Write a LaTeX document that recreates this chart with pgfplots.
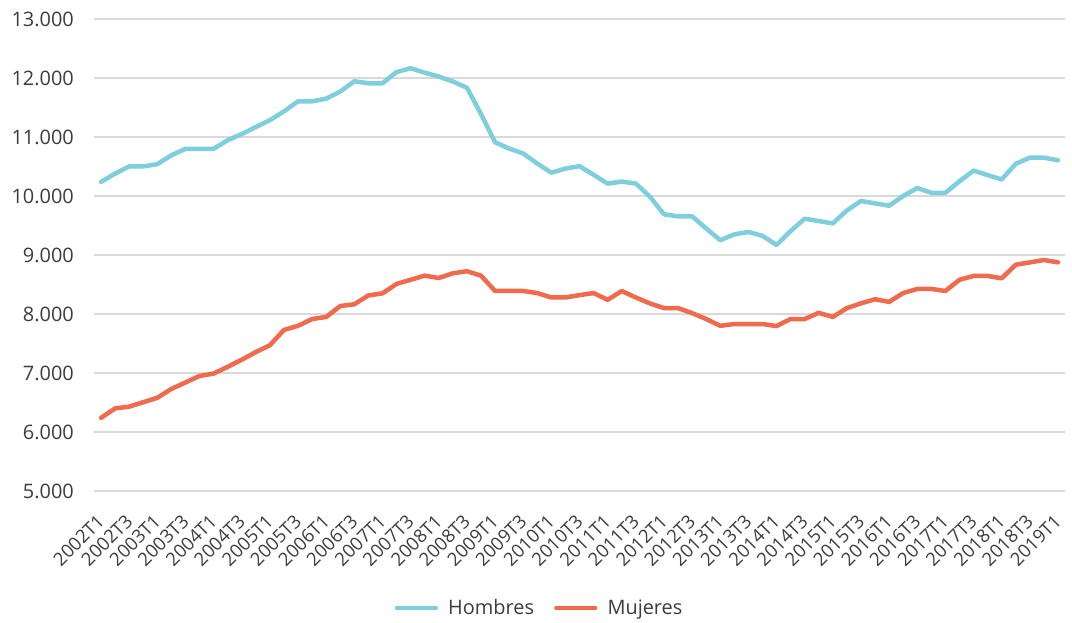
\documentclass[border=0pt]{standalone}
\usepackage{pgfplots}
\pgfplotsset{compat=1.18}
\usepackage{pgfplotstable}
\usepackage{fontspec}
\setmainfont{Open Sans}
\definecolor{hom}{RGB}{126,206,222}
\definecolor{muj}{RGB}{240,106,78}
\definecolor{txt}{RGB}{60,60,60}
\definecolor{gridc}{RGB}{217,217,217}
\pgfplotstableread{
i h m
0 10240 6240
1 10380 6400
2 10500 6430
3 10500 6505
4 10540 6580
5 10690 6730
6 10800 6840
7 10800 6950
8 10800 6990
9 10945 7105
10 11050 7225
11 11170 7355
12 11285 7470
13 11435 7730
14 11605 7800
15 11605 7915
16 11650 7950
17 11770 8135
18 11945 8165
19 11910 8315
20 11910 8350
21 12100 8510
22 12165 8580
23 12090 8650
24 12025 8610
25 11940 8690
26 11835 8725
27 11390 8650
28 10910 8390
29 10805 8390
30 10720 8390
31 10550 8355
32 10395 8280
33 10465 8280
34 10505 8320
35 10360 8355
36 10210 8240
37 10245 8390
38 10210 8280
39 9990 8180
40 9690 8100
41 9655 8100
42 9655 8015
43 9450 7915
44 9250 7800
45 9350 7830
46 9390 7830
47 9325 7830
48 9170 7795
49 9405 7915
50 9615 7915
51 9575 8020
52 9535 7950
53 9755 8100
54 9915 8180
55 9875 8250
56 9835 8205
57 10000 8355
58 10135 8425
59 10055 8425
60 10055 8390
61 10250 8580
62 10430 8645
63 10355 8645
64 10280 8605
65 10545 8835
66 10650 8875
67 10650 8915
68 10605 8875
}\datatable
\begin{document}
\begin{tikzpicture}
\begin{axis}[
  at={(0,0)}, anchor=south west,
  scale only axis,
  width=971bp, height=472bp,
  xmin=-0.5, xmax=68.5,
  ymin=5000, ymax=13000,
  axis line style={draw=none},
  scaled y ticks=false,
  ytick={5000,6000,...,13000},
  yticklabels={5.000,6.000,7.000,8.000,9.000,10.000,11.000,12.000,13.000},
  ymajorgrids, xmajorgrids=false,
  major grid style={draw=gridc, line width=1.2bp},
  major tick length=0pt,
  tick style={draw=none},
  yticklabel style={font=\fontsize{20}{24}\selectfont, text=txt, anchor=east, inner sep=0pt, xshift=-20bp},
  xtick={0,2,...,68},
  xticklabels={2002T1,2002T3,2003T1,2003T3,2004T1,2004T3,2005T1,2005T3,2006T1,2006T3,2007T1,2007T3,2008T1,2008T3,2009T1,2009T3,2010T1,2010T3,2011T1,2011T3,2012T1,2012T3,2013T1,2013T3,2014T1,2014T3,2015T1,2015T3,2016T1,2016T3,2017T1,2017T3,2018T1,2018T3,2019T1},
  xticklabel shift=27bp,
  xticklabel style={font=\fontsize{18.5}{22}\selectfont, text=txt, rotate=45, anchor=east, inner sep=0pt},
  legend columns=2,
  legend style={at={(0.4578,-0.2479)}, anchor=center, draw=none, fill=none,
    font=\fontsize{20}{24}\selectfont, text=txt, inner sep=0pt,
    nodes={inner sep=0pt},
    /tikz/every odd column/.append style={column sep=10bp},
    /tikz/every even column/.append style={column sep=20bp}},
  legend cell align=left,
  legend image code/.code={\draw[#1, line width=4.5bp, line cap=round] (0bp,0bp) -- (39bp,0bp);},
]
\addplot[hom, line width=4.5bp, line join=round, line cap=round] table[x=i, y=h] {\datatable};
\addlegendentry{Hombres}
\addplot[muj, line width=4.5bp, line join=round, line cap=round] table[x=i, y=m] {\datatable};
\addlegendentry{Mujeres}
\end{axis}
\pgfresetboundingbox
\path[use as bounding box] (-94bp,-132bp) rectangle (978bp,491bp);
\end{tikzpicture}
\end{document}
